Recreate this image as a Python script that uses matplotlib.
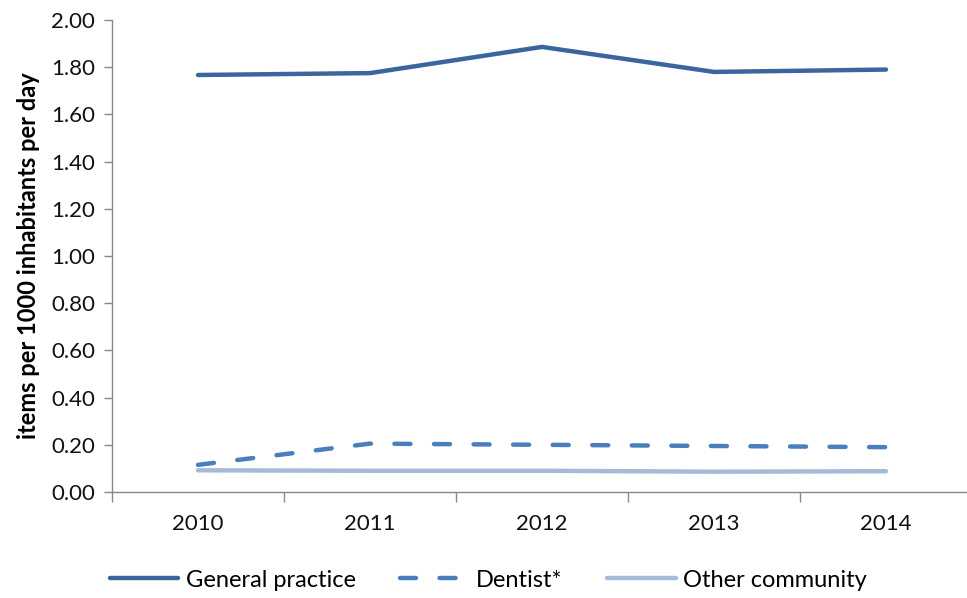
import matplotlib
matplotlib.use("Agg")
import matplotlib.pyplot as plt

years = ["2010", "2011", "2012", "2013", "2014"]
general_practice = [1.767, 1.775, 1.886, 1.780, 1.790]
dentist = [0.115, 0.205, 0.200, 0.195, 0.190]
other_community = [0.092, 0.090, 0.090, 0.086, 0.088]
y_ticks = [0.0, 0.2, 0.4, 0.6, 0.8, 1.0, 1.2, 1.4, 1.6, 1.8, 2.0]

plt.rcParams["font.family"] = ["Lato", "DejaVu Sans"]

fig = plt.figure(figsize=(9.67, 5.98), dpi=100)
ax = fig.add_axes([112 / 967, 106 / 598, 860 / 967, 472 / 598])

x = range(len(years))
ax.plot(x, general_practice, color="#3b669d", lw=3.2, solid_capstyle="round",
        solid_joinstyle="round", label="General practice")
ax.plot(x, dentist, color="#4a7ebd", lw=3.2, dashes=(3.6, 5.3),
        dash_capstyle="round", label="Dentist*")
ax.plot(x, other_community, color="#a7b9d9", lw=3.2, solid_capstyle="round",
        label="Other community")

ax.set_xlim(-0.5, len(years) - 0.5)
ax.set_ylim(0, 2.0)
ax.set_yticks(y_ticks)
ax.set_yticklabels([f"{v:.2f}" for v in y_ticks], fontsize=16, color="#111111")

# category boundaries get the tick marks, labels sit in the middle
ax.set_xticks([i - 0.5 for i in range(len(years) + 1)])
ax.set_xticklabels([])
ax.set_xticks(list(x), minor=True)
ax.set_xticklabels(years, minor=True, fontsize=16, color="#111111")
ax.tick_params(axis="x", which="major", length=7, width=1, color="#888888", direction="out")
ax.tick_params(axis="x", which="minor", length=0, pad=16)
ax.tick_params(axis="y", length=6, width=1, color="#888888", direction="out", pad=6)

for side in ("top", "right"):
    ax.spines[side].set_visible(False)
for side in ("left", "bottom"):
    ax.spines[side].set_color("#888888")
    ax.spines[side].set_linewidth(1)

ax.set_ylabel("items per 1000 inhabitants per day", fontsize=17, fontweight="bold",
              labelpad=8)

fig.legend(loc="center", bbox_to_anchor=(0.505, 0.03), ncol=3, frameon=False,
           fontsize=17, handlelength=2.9, handletextpad=0.3, columnspacing=1.9)

fig.savefig("out.png", dpi=100)
